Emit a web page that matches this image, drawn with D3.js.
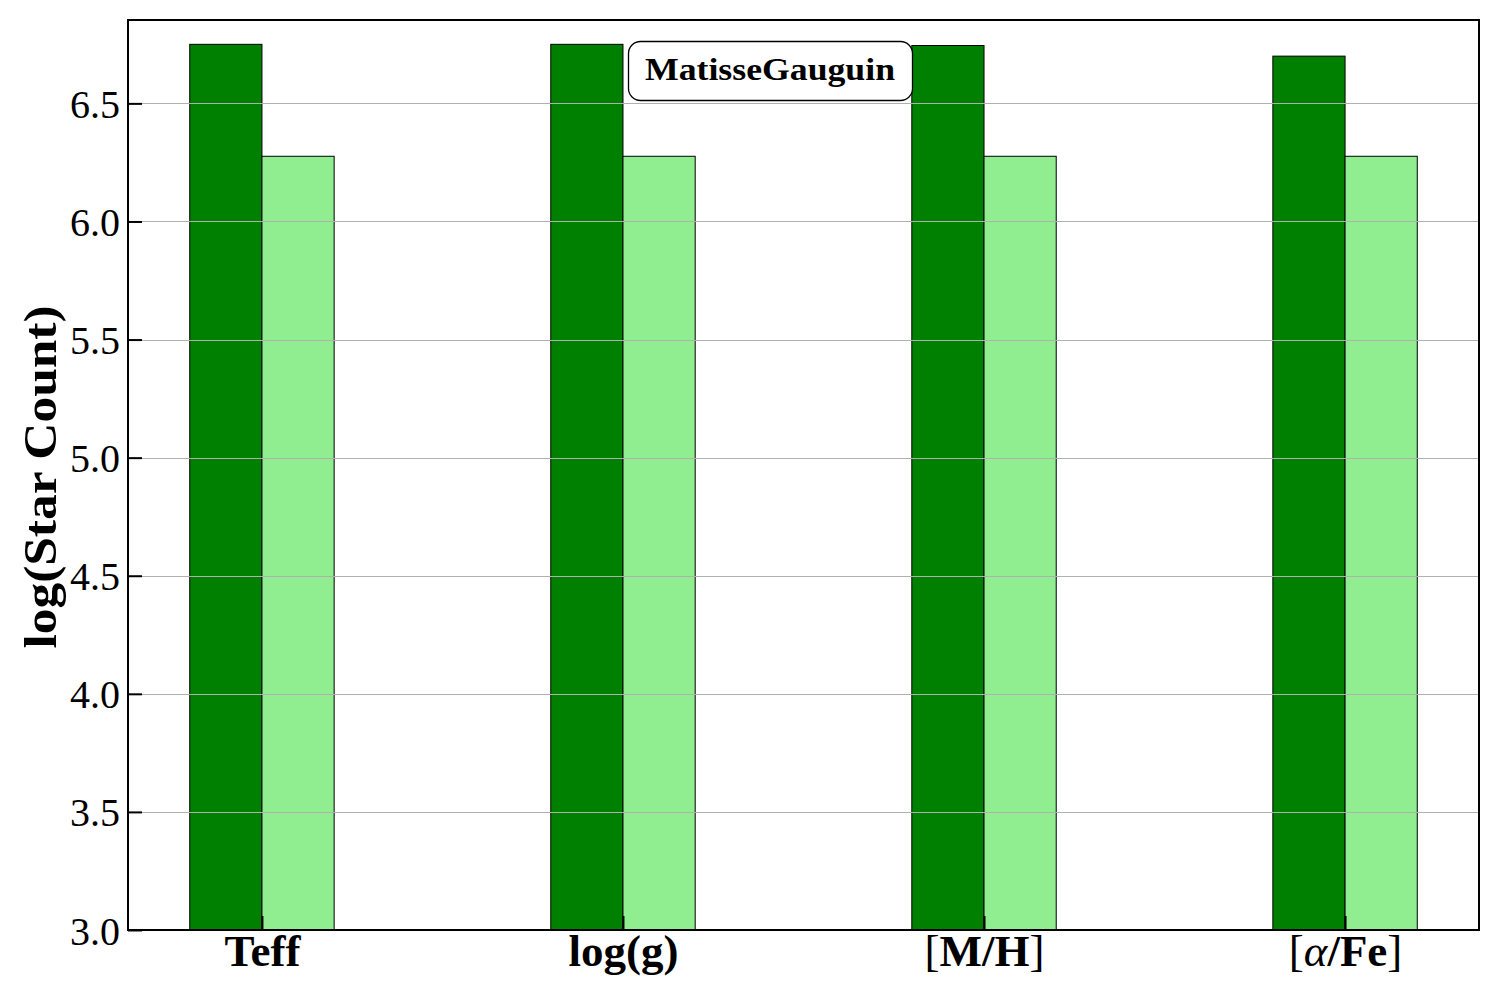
<!DOCTYPE html>
<html><head><meta charset="utf-8">
<script src="https://cdn.jsdelivr.net/npm/d3@7"></script>
<style>body{margin:0;background:#fff}svg{display:block}</style>
</head><body>
<script>
const categories = ["Teff", "log(g)", "[M/H]", "[α/Fe]"];
const seriesA = [6.75, 6.75, 6.745, 6.70];   // dark green
const seriesB = [6.276, 6.276, 6.276, 6.276]; // light green
const yTicks = [3.0, 3.5, 4.0, 4.5, 5.0, 5.5, 6.0, 6.5];
const yLabel = "log(Star Count)";
const annotation = "MatisseGauguin";

const W = 1500, H = 1000;
const m = {left: 128, right: 21, top: 20, bottom: 70};
const svg = d3.select("body").append("svg").attr("width", W).attr("height", H);
const x = d3.scaleLinear().domain([-0.371, 3.371]).range([m.left, W - m.right]);
const y = d3.scaleLinear().domain([3.0, 6.853]).range([H - m.bottom, m.top]);
const bw = 0.2;
const serif = "'Liberation Serif', 'DejaVu Serif', serif";

// bars
const g = svg.append("g");
g.selectAll("rect.a").data(seriesA).join("rect")
  .attr("x", (d, i) => x(i - bw)).attr("width", (d, i) => x(i) - x(i - bw))
  .attr("y", d => y(d)).attr("height", d => y(3.0) - y(d))
  .attr("fill", "#008000").attr("stroke", "#000").attr("stroke-width", 1);
g.selectAll("rect.b").data(seriesB).join("rect")
  .attr("x", (d, i) => x(i)).attr("width", (d, i) => x(i + bw) - x(i))
  .attr("y", d => y(d)).attr("height", d => y(3.0) - y(d))
  .attr("fill", "#90ee90").attr("stroke", "#000").attr("stroke-width", 1);

// grid (above bars)
svg.append("g").selectAll("line").data(yTicks.filter(t => t > 3.0)).join("line")
  .attr("x1", m.left).attr("x2", W - m.right)
  .attr("y1", d => Math.round(y(d)) + 0.5).attr("y2", d => Math.round(y(d)) + 0.5)
  .attr("stroke", "#b0b0b0").attr("stroke-width", 1);

// y axis
const yAxis = d3.axisLeft(y).tickValues(yTicks).tickFormat(d3.format(".1f")).tickSizeInner(-14).tickSizeOuter(0).tickPadding(8);
const ya = svg.append("g").attr("transform", `translate(${m.left},0)`).call(yAxis);
ya.select(".domain").remove();
ya.selectAll(".tick line").attr("stroke", "#000").attr("stroke-width", 2);
ya.selectAll(".tick text").attr("font-family", serif).attr("font-size", 40).attr("fill", "#000").attr("dy", "0.35em");

// x axis
const xAxis = d3.axisBottom(x).tickValues(d3.range(categories.length)).tickFormat(i => categories[i]).tickSizeInner(-14).tickSizeOuter(0).tickPadding(4);
const xa = svg.append("g").attr("transform", `translate(0,${H - m.bottom})`).call(xAxis);
xa.select(".domain").remove();
xa.selectAll(".tick line").attr("stroke", "#000").attr("stroke-width", 2);
xa.selectAll(".tick text").attr("font-family", serif).attr("font-size", 45).attr("font-weight", "bold").attr("fill", "#000")
  .each(function(d) {
    const t = d3.select(this);
    if (categories[d].includes("α")) {
      t.text(null);
      t.append("tspan").attr("font-weight", "normal").text("[");
      t.append("tspan").attr("font-style", "italic").attr("font-weight", "normal").text("α");
      t.append("tspan").text("/Fe");
      t.append("tspan").attr("font-weight", "normal").text("]");
    } else if (categories[d].startsWith("[")) {
      t.text(null);
      t.append("tspan").attr("font-weight", "normal").text("[");
      t.append("tspan").text(categories[d].slice(1, -1));
      t.append("tspan").attr("font-weight", "normal").text("]");
    }
  });

// frame
svg.append("rect").attr("x", m.left).attr("y", m.top)
  .attr("width", W - m.left - m.right).attr("height", H - m.top - m.bottom)
  .attr("fill", "none").attr("stroke", "#000").attr("stroke-width", 2);

// y label
svg.append("text").attr("transform", `translate(56,${(m.top + H - m.bottom) / 2 + 2}) rotate(-90)`)
  .attr("text-anchor", "middle").attr("font-family", serif).attr("font-size", 46).attr("font-weight", "bold")
  .attr("fill", "#000").attr("textLength", 343).attr("lengthAdjust", "spacingAndGlyphs").text(yLabel);

// annotation box
const ann = svg.append("g");
ann.append("rect").attr("x", 628.5).attr("y", 41.5).attr("width", 284).attr("height", 59).attr("rx", 12)
  .attr("fill", "#fff").attr("stroke", "#000").attr("stroke-width", 1.3);
ann.append("text").attr("x", 770).attr("y", 80).attr("text-anchor", "middle")
  .attr("font-family", serif).attr("font-size", 31).attr("font-weight", "bold").attr("fill", "#000")
  .attr("textLength", 250).attr("lengthAdjust", "spacingAndGlyphs").text(annotation);
</script>
</body></html>
